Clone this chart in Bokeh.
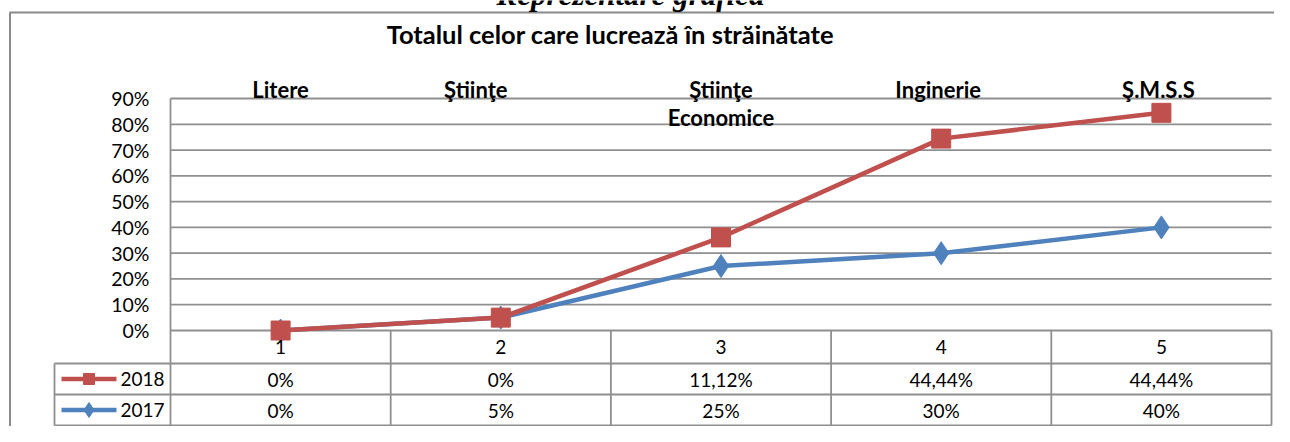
from bokeh.plotting import figure
from bokeh.models import Range1d, ColumnDataSource
from bokeh.core.properties import value
from bokeh.embed import file_html
from bokeh.resources import INLINE

# ---------------- data ----------------
categories = [1, 2, 3, 4, 5]
cat_ticks = ["1", "2", "3", "4", "5"]
field_labels = ["Litere", "Ştiinţe", "Ştiinţe\nEconomice", "Inginerie", "Ş.M.S.S"]
series_names = ["2018", "2017"]
values_2018 = [0.0, 0.0, 0.1112, 0.4444, 0.4444]
values_2017 = [0.0, 0.05, 0.25, 0.30, 0.40]
table_2018 = ["0%", "0%", "11,12%", "44,44%", "44,44%"]
table_2017 = ["0%", "5%", "25%", "30%", "40%"]
y_ticks = [0.0, 0.1, 0.2, 0.3, 0.4, 0.5, 0.6, 0.7, 0.8, 0.9]
y_tick_labels = ["0%", "10%", "20%", "30%", "40%", "50%", "60%", "70%", "80%", "90%"]
suptitle = "Reprezentare grafică"
title = "Totalul celor care lucrează  în străinătate"

# stacked line chart: 2018 is stacked on top of 2017
stacked_2017 = list(values_2017)
stacked_2018 = [a + b for a, b in zip(values_2017, values_2018)]

# ---------------- layout ----------------
W, H = 1274, 426
X0, X1 = 170, 1271   # canvas px of x = 0.5 and x = 5.5
Y0, Y1 = 330, 98     # canvas px of y = 0 and y = 0.9


def dx(px):
    return 0.5 + (px - X0) * 5.0 / (X1 - X0)


def dy(py):
    return (Y0 - py) * 0.9 / (Y0 - Y1)


RED = "#C0504D"
BLUE = "#4F81BD"
GRID = "#8f8f8f"
FONT = "Lato"

ROW_LINES = [363, 394, 425]
ROW_MID = [346.5, 378.5, 409.5]

p = figure(width=W, height=H, output_backend="svg", toolbar_location=None,
           x_axis_type=None, y_axis_type=None,
           x_range=Range1d(dx(0), dx(W)),
           y_range=Range1d(dy(H), dy(0)),
           min_border=0, min_border_left=0, min_border_right=0,
           min_border_top=0, min_border_bottom=0)
p.outline_line_color = None
p.background_fill_color = "white"
p.border_fill_color = "white"

# outer chart border
p.segment(x0=[dx(9.5), dx(9)], y0=[dy(12), dy(12)],
          x1=[dx(9.5), dx(1300)], y1=[dy(440), dy(12)],
          line_color="#8a8a8a", line_width=2)

# horizontal gridlines
p.segment(x0=[0.5] * len(y_ticks), y0=y_ticks, x1=[5.5] * len(y_ticks), y1=y_ticks,
          line_color=GRID, line_width=1.8)

# plot-area left line
p.segment(x0=[0.5], y0=[0.9], x1=[0.5], y1=[dy(ROW_LINES[-1])], line_color=GRID, line_width=1.8)

# data table lines
col_bounds = [c + 0.5 for c in categories]
p.segment(x0=col_bounds, y0=[0] * len(col_bounds), x1=col_bounds,
          y1=[dy(ROW_LINES[-1])] * len(col_bounds), line_color=GRID, line_width=1.8)
p.segment(x0=[dx(54)], y0=[dy(ROW_LINES[0])], x1=[dx(54)], y1=[dy(ROW_LINES[-1])],
          line_color=GRID, line_width=1.8)
row_y = [dy(v) for v in ROW_LINES]
p.segment(x0=[dx(54)] * 3, y0=row_y, x1=[5.5] * 3, y1=row_y, line_color=GRID, line_width=1.8)

# series (2017 first, 2018 on top)
p.line(categories, stacked_2017, line_color=BLUE, line_width=4.5)
p.scatter(categories, stacked_2017, marker="diamond", size=23, fill_color=BLUE, line_color=BLUE)
p.line(categories, stacked_2018, line_color=RED, line_width=4.5)
p.scatter(categories, stacked_2018, marker="square", size=19, fill_color=RED, line_color=RED)

# titles
p.text(x=[dx(630)], y=[dy(-6)], text=[suptitle], text_font=value("Liberation Serif"),
       text_font_style="bold italic", text_font_size="31px", text_align="center",
       text_baseline="middle", text_color="black")
p.text(x=[dx(613)], y=[dy(33)], text=[title], text_font=value(FONT),
       text_font_style="bold", text_font_size="25.5px", text_align="center",
       text_baseline="middle", text_color="black")

# field labels above the plot
lx, ly, lt, lo = [], [], [], []
label_dx = [0, -25, 0, -3, -3]
for c, lab, off in zip(categories, field_labels, label_dx):
    for i, line in enumerate(lab.split("\n")):
        lx.append(c)
        ly.append(dy(89 + 28 * i))
        lt.append(line)
        lo.append(off)
p.text(x="x", y="y", text="t", x_offset="o",
       source=ColumnDataSource(dict(x=lx, y=ly, t=lt, o=lo)),
       text_font=value(FONT), text_font_style="bold", text_font_size="22px",
       text_align="center", text_baseline="middle", text_color="black")

# y tick labels
p.text(x=[dx(149)] * len(y_ticks), y=y_ticks, text=y_tick_labels, text_font=value(FONT),
       text_font_size="19.5px", text_align="right", text_baseline="middle", text_color="black")

# data table texts
for yy, txt in zip(ROW_MID, [cat_ticks, table_2018, table_2017]):
    p.text(x=categories, y=[dy(yy)] * 5, text=txt, text_font=value(FONT),
           text_font_size="19px", text_align="center", text_baseline="middle", text_color="black")

# legend keys in the table
p.segment(x0=[dx(61)], y0=[dy(ROW_MID[1])], x1=[dx(116)], y1=[dy(ROW_MID[1])],
          line_color=RED, line_width=4.5)
p.scatter([dx(88.5)], [dy(ROW_MID[1])], marker="square", size=11, fill_color=RED, line_color=RED)
p.segment(x0=[dx(61)], y0=[dy(ROW_MID[2])], x1=[dx(116)], y1=[dy(ROW_MID[2])],
          line_color=BLUE, line_width=4.5)
p.scatter([dx(88.5)], [dy(ROW_MID[2])], marker="diamond", size=15, fill_color=BLUE, line_color=BLUE)
p.text(x=[dx(120)] * 2, y=[dy(ROW_MID[1]), dy(ROW_MID[2])], text=series_names, text_font=value(FONT),
       text_font_size="19px", text_align="left", text_baseline="middle", text_color="black")

open("out.html", "w").write(file_html(p, INLINE))
